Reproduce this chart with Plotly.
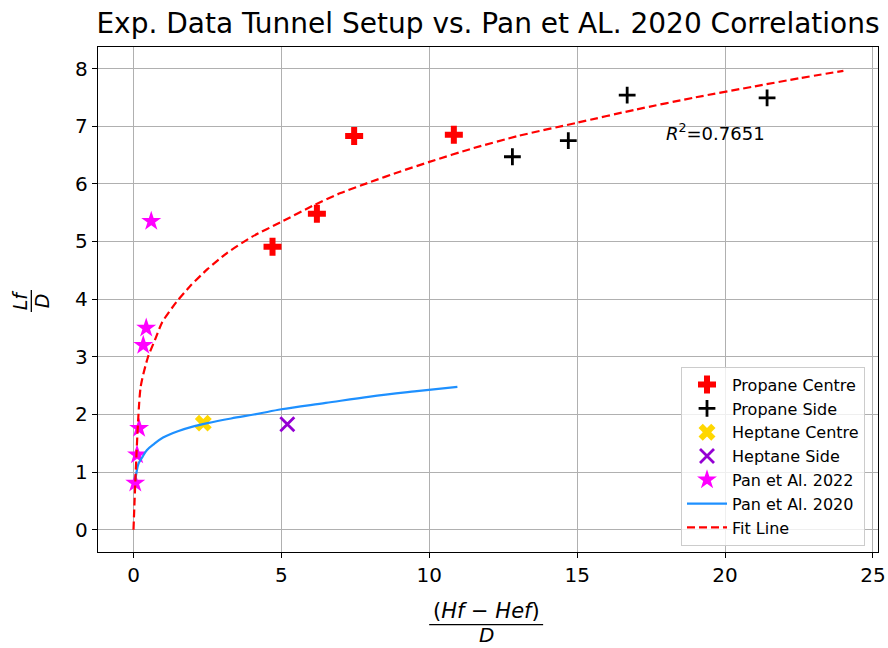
import plotly.graph_objects as go

# ---------------- data ----------------
propane_centre_x = [4.70, 6.20, 7.46, 10.83]
propane_centre_y = [4.91, 5.48, 6.83, 6.85]

propane_side_x = [12.81, 14.70, 16.69, 21.42]
propane_side_y = [6.47, 6.75, 7.54, 7.49]

heptane_centre_x = [2.36]
heptane_centre_y = [1.85]

heptane_side_x = [5.20]
heptane_side_y = [1.83]

pan2022_x = [0.06, 0.12, 0.19, 0.33, 0.43, 0.60]
pan2022_y = [0.81, 1.30, 1.76, 3.20, 3.50, 5.35]

pan2020_x = [0.06, 0.10, 0.17, 0.30, 0.45, 0.70, 1.00, 1.50, 2.00, 2.50, 3.30, 4.20, 5.00, 6.50, 8.00, 9.50, 10.95]
pan2020_y = [0.86, 0.99, 1.15, 1.26, 1.38, 1.49, 1.60, 1.71, 1.79, 1.85, 1.93, 2.01, 2.09, 2.20, 2.31, 2.40, 2.48]

fit_x = [0.0, 0.24, 0.48, 0.73, 0.97, 1.45, 1.94, 2.50, 3.16, 4.00, 5.00, 6.10, 7.00, 8.00, 9.00, 10.0,
         11.5, 13.0, 15.0, 17.0, 19.0, 21.0, 22.5, 24.0]
fit_y = [0.0, 2.47, 2.98, 3.30, 3.60, 3.95, 4.24, 4.52, 4.80, 5.08, 5.34, 5.63, 5.84, 6.03, 6.21, 6.38,
         6.62, 6.83, 7.06, 7.29, 7.50, 7.69, 7.83, 7.96]

r2_label = "<i>R</i><sup>2</sup>=0.7651"
r2_pos = (17.95, 6.90)

x_ticks = [0, 5, 10, 15, 20, 25]
y_ticks = [0, 1, 2, 3, 4, 5, 6, 7, 8]

title_text = "Exp. Data Tunnel Setup vs. Pan et AL. 2020 Correlations"

# ---------------- layout geometry (pixels) ----------------
FW, FH = 888, 648
L, R, T, B = 97.7, 878.0, 46.7, 552.3
PW, PH = R - L, B - T


def px_x(p):
    return (p - L) / PW


def px_y(p):
    return (B - p) / PH


FONT = "DejaVu Sans"

fig = go.Figure()

fig.add_trace(go.Scatter(
    x=propane_centre_x, y=propane_centre_y, mode="markers", name="Propane Centre",
    marker=dict(symbol="cross", size=15, color="#ff0000", line=dict(width=0))))
fig.add_trace(go.Scatter(
    x=propane_side_x, y=propane_side_y, mode="markers", name="Propane Side",
    marker=dict(symbol="cross-thin-open", size=12, color="black", line=dict(width=2.8, color="black"))))
fig.add_trace(go.Scatter(
    x=heptane_centre_x, y=heptane_centre_y, mode="markers", name="Heptane Centre",
    marker=dict(symbol="x", size=15, color="#ffd700", line=dict(width=0))))
fig.add_trace(go.Scatter(
    x=heptane_side_x, y=heptane_side_y, mode="markers", name="Heptane Side",
    marker=dict(symbol="x-thin-open", size=14, color="#9400d3", line=dict(width=2.8, color="#9400d3"))))
fig.add_trace(go.Scatter(
    x=pan2022_x, y=pan2022_y, mode="markers", name="Pan et Al. 2022",
    marker=dict(symbol="star", size=15, color="#ff00ff", line=dict(width=0))))
fig.add_trace(go.Scatter(
    x=pan2020_x, y=pan2020_y, mode="lines", name="Pan et Al. 2020",
    line=dict(color="#1e90ff", width=2.2, shape="spline")))
fig.add_trace(go.Scatter(
    x=fit_x, y=fit_y, mode="lines", name="Fit Line",
    line=dict(color="#ff0000", width=2.2, dash="8px,4px", shape="spline", smoothing=0.6)))

axis_common = dict(
    showgrid=True, gridcolor="#b0b0b0", gridwidth=1.3,
    zeroline=False, showline=True, linecolor="black", linewidth=1.3, mirror=True,
    ticks="outside", ticklen=5, tickwidth=1.3, tickcolor="black",
    tickfont=dict(family=FONT, size=20, color="black"),
)

fig.update_layout(
    width=FW, height=FH,
    margin=dict(l=L, r=FW - R, t=T, b=FH - B, autoexpand=False),
    paper_bgcolor="white", plot_bgcolor="white",
    title=dict(text=title_text, x=px_x((L + R) / 2), xref="paper", xanchor="center",
               y=1 - 23 / FH, yref="container", yanchor="middle",
               font=dict(family=FONT, size=28, color="black")),
    xaxis=dict(range=[-1.2, 25.17], tickvals=x_ticks, **axis_common),
    yaxis=dict(range=[-0.385, 8.373], tickvals=y_ticks, **axis_common),
    legend=dict(x=px_x(865), y=px_y(546), xanchor="right", yanchor="bottom",
                bgcolor="rgba(255,255,255,0.8)", bordercolor="#cccccc", borderwidth=1,
                itemwidth=40,
                font=dict(family=FONT, size=16, color="black"), tracegroupgap=0),
    showlegend=True,
)

annotations = [
    dict(x=r2_pos[0], y=r2_pos[1], xref="x", yref="y", text=r2_label, showarrow=False,
         xanchor="left", yanchor="middle", font=dict(family=FONT, size=18, color="black")),
    # x-axis label as a fraction
    dict(x=px_x(486), y=px_y(611), xref="paper", yref="paper",
         text="(<i>Hf</i> \u2212 <i>Hef</i>)", showarrow=False, xanchor="center", yanchor="middle",
         font=dict(family=FONT, size=21, color="black")),
    dict(x=px_x(486), y=px_y(648), xref="paper", yref="paper",
         text="<i>D</i>", showarrow=False, xanchor="center", yanchor="bottom", borderpad=0,
         font=dict(family=FONT, size=20, color="black")),
    # y-axis label as a rotated fraction
    dict(x=px_x(20), y=px_y(300), xref="paper", yref="paper",
         text="<i>Lf</i>", showarrow=False, xanchor="center", yanchor="middle", textangle=-90,
         font=dict(family=FONT, size=19, color="black")),
    dict(x=px_x(42), y=px_y(301), xref="paper", yref="paper",
         text="<i>D</i>", showarrow=False, xanchor="center", yanchor="middle", textangle=-90,
         font=dict(family=FONT, size=19, color="black")),
]
fig.update_layout(annotations=annotations)

fig.add_shape(type="line", xref="paper", yref="paper",
              x0=px_x(429), x1=px_x(543), y0=px_y(625), y1=px_y(625),
              line=dict(color="black", width=1.3))
fig.add_shape(type="line", xref="paper", yref="paper",
              x0=px_x(31), x1=px_x(31), y0=px_y(290), y1=px_y(312),
              line=dict(color="black", width=1.3))

fig.write_html("out.html", config={"displayModeBar": False},
               post_script="document.body.style.margin='0px';document.body.style.padding='0px';")
